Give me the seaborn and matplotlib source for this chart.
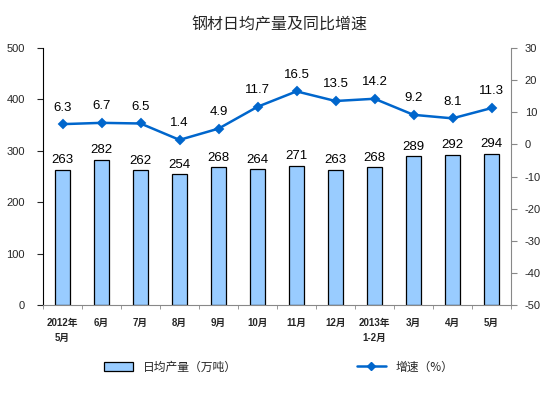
import matplotlib
matplotlib.use("Agg")
import matplotlib.pyplot as plt
import seaborn as sns
import numpy as np
import pandas as pd

categories = ["2012年\n5月", "6月", "7月", "8月", "9月", "10月", "11月", "12月",
              "2013年\n1-2月", "3月", "4月", "5月"]
output = [263, 282, 262, 254, 268, 264, 271, 263, 268, 289, 292, 294]
growth = [6.3, 6.7, 6.5, 1.4, 4.9, 11.7, 16.5, 13.5, 14.2, 9.2, 8.1, 11.3]

sns.set_style("white")
plt.rcParams['font.family'] = ['Liberation Sans', 'Noto Sans CJK SC', 'DejaVu Sans']
plt.rcParams['axes.unicode_minus'] = False

df = pd.DataFrame({"cat": categories, "output": output, "growth": growth})

fig = plt.figure(figsize=(5.59, 3.98), dpi=100)
ax = fig.add_axes([43/559, 93/398, 468/559, 257/398])
bar_color = "#99CCFF"
line_color = "#0066CC"

sns.barplot(data=df, x="cat", y="output", ax=ax, color=bar_color,
            edgecolor="black", linewidth=0.9, width=0.41, saturation=1)
ax.set_ylim(0, 500)
ax.set_xlim(-0.5, len(categories) - 0.5)
ax.set_yticks(np.arange(0, 501, 100))
ax.set_xlabel("")
ax.set_ylabel("")
for p, v in zip(ax.patches, output):
    ax.text(p.get_x() + p.get_width() / 2, v + 7, str(v), ha="center", va="bottom",
            fontsize=9.5, color="black")

ax2 = ax.twinx()
sns.pointplot(data=df, x="cat", y="growth", ax=ax2, color=line_color,
              markers="D", markersize=4, linewidth=1.8)
ax2.set_ylim(-50, 30)
ax2.set_yticks(np.arange(-50, 31, 10))
ax2.set_xlim(-0.5, len(categories) - 0.5)
ax2.set_ylabel("")
ax2.set_xlabel("")
for i, g in enumerate(growth):
    ax2.text(i, g + 3.3, f"{g}", ha="center", va="bottom", fontsize=9.5, color="black")

for a in (ax, ax2):
    a.spines["top"].set_visible(False)
ax.spines["left"].set_color("black")
ax.spines["left"].set_linewidth(0.8)
ax.spines["bottom"].set_color("#888888")
ax.spines["right"].set_visible(False)
ax2.spines["left"].set_visible(False)
ax2.spines["bottom"].set_visible(False)
ax2.spines["right"].set_color("#888888")
ax2.spines["right"].set_linewidth(0.8)

ax.tick_params(axis="y", which="both", left=True, length=4, width=0.8, labelsize=8, pad=9)
ax2.tick_params(axis="y", right=True, length=4, width=0.8, labelsize=8, pad=6, color="#888888")
ax.set_xticks(range(len(categories)))
ax.set_xticklabels(categories, fontsize=7, fontweight="bold", linespacing=1.6)
ax.tick_params(axis="x", which="major", bottom=False, pad=6)
ax.set_xticks(np.arange(-0.5, len(categories), 1), minor=True)
ax.tick_params(axis="x", which="minor", bottom=True, length=3, width=0.6, color="#888888")

fig.text(0.5, 1 - 25/398, "钢材日均产量及同比增速", ha="center", va="center",
         fontsize=11.5, family=['Noto Sans CJK SC'])

from matplotlib.patches import Patch
from matplotlib.lines import Line2D
h1 = Patch(facecolor=bar_color, edgecolor="black", linewidth=0.9)
h2 = Line2D([0], [0], color=line_color, marker="D", markersize=4, linewidth=1.8)
fig.legend([h1], ["日均产量（万吨）"], loc="center", bbox_to_anchor=(170/559, 1 - 367/398),
           frameon=False, handlelength=2.5, prop={'family': ['Noto Sans CJK SC'], 'size': 8.5})
fig.legend([h2], ["增速（%）"], loc="center", bbox_to_anchor=(405/559, 1 - 367/398),
           frameon=False, handlelength=2.5, prop={'family': ['Noto Sans CJK SC'], 'size': 8.5})

fig.savefig("out.png", dpi=100)
